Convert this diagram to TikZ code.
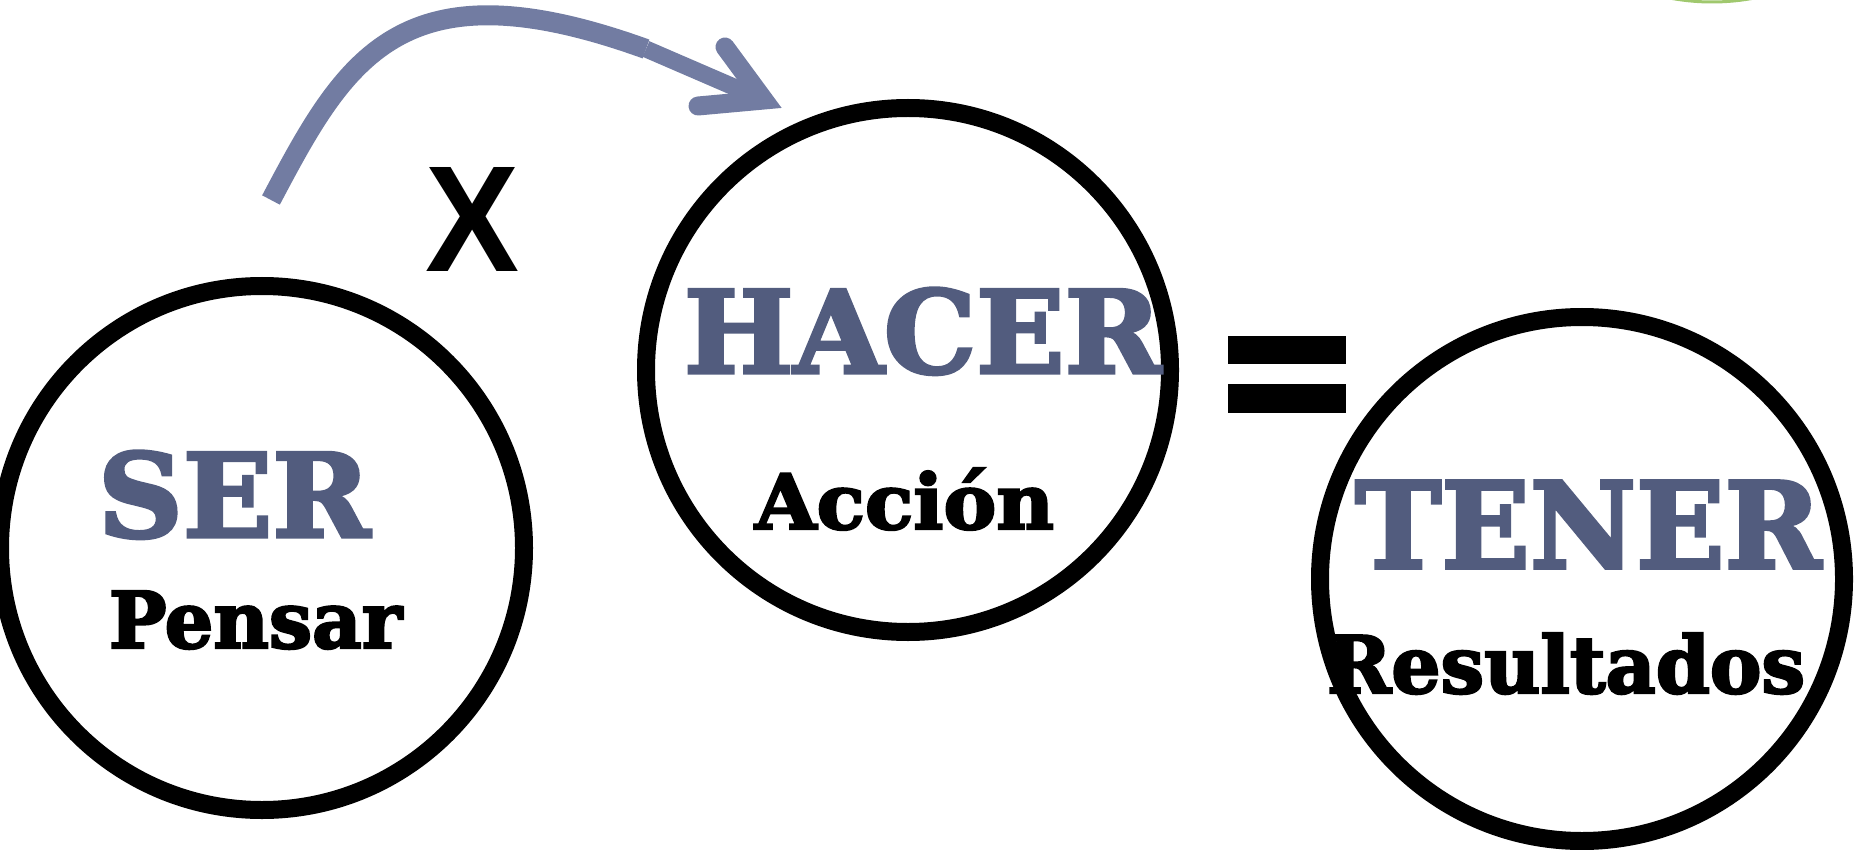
\documentclass[tikz,border=0pt]{standalone}
\usepackage{fontspec}
\setmainfont{DejaVu Serif}
\newfontfamily\heavy[FakeBold=3]{DejaVu Serif Bold}
\newfontfamily\xfont{Liberation Sans}
\usepackage{graphicx}
\definecolor{wordblue}{RGB}{82,92,126}
\definecolor{arrowblue}{RGB}{114,124,162}
\definecolor{leafgreen}{RGB}{160,200,110}
\begin{document}
\begin{tikzpicture}[x=0.5pt,y=-0.5pt,
  ring/.style={circle,draw=black,line width=9pt,minimum size=262pt,inner sep=0pt},
  word/.style={anchor=base west,inner sep=0pt,outer sep=0pt},
  bigword/.style={word,text=wordblue},
  subword/.style={word,text=black},
  arrowline/.style={draw=arrowblue},
  eqbar/.style={fill=black}]
\useasboundingbox (0,0) rectangle (1863,850);
% small green mark at the top edge
\draw[leafgreen,line width=1.5pt] (1712,-224) circle (226);
% circles
\node[ring] (ser) at (262,548) {};
\node[ring] (hacer) at (908,370) {};
\node[ring] (tener) at (1582,579) {};
% words
\node[bigword] (sert) at (98,537) {\resizebox{136pt}{43pt}{\heavy SER}};
\node[subword] (pensar) at (109,648) {\resizebox{146.5pt}{28.5pt}{\heavy Pensar}};
\node[bigword] (hacert) at (684,373) {\resizebox{238.5pt}{42.5pt}{\heavy HACER}};
\node[subword] (accion) at (755,529) {\resizebox{149.5pt}{30.5pt}{\heavy Acción}};
\node[bigword] (tenert) at (1355,568) {\resizebox{233pt}{43.5pt}{\heavy TENER}};
\node[subword] (result) at (1327,693) {\resizebox{239pt}{30pt}{\heavy Resultados}};
\node[subword] (times) at (425,271) {\resizebox{47pt}{52pt}{\xfont\bfseries X}};
% equals sign
\fill[eqbar] (1228,336) rectangle (1346,364);
\fill[eqbar] (1228,384) rectangle (1346,413);
% curved arrow
\coordinate (a0) at (271,200);
\coordinate (a1) at (646,49);
\coordinate (a2) at (764,100);
\coordinate (b1) at (725,47);
\coordinate (b2) at (698,106);
\draw[arrowline,line width=10pt] (a0) .. controls (345,60) and (400,-40) .. (a1);
\draw[arrowline,line width=8.5pt] (a1) -- (a2);
\draw[arrowline,line width=9.5pt,line cap=round,line join=miter] (b1) -- (a2) -- (b2);
\end{tikzpicture}
\end{document}
